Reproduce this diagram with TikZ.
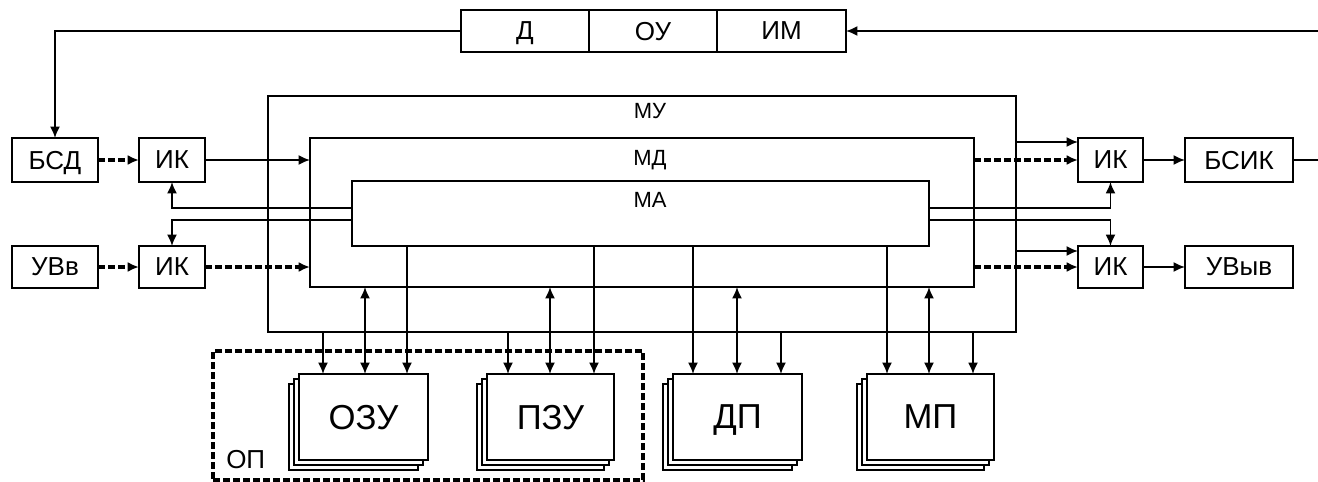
\documentclass[tikz,border=0pt]{standalone}
\usepackage{fontspec}
\setmainfont{Liberation Sans}
\usetikzlibrary{arrows.meta,calc}
\tikzset{
 box/.style={draw, line width=1.25pt, outer sep=0pt, inner sep=0pt, text depth=0pt, font=\fontsize{19.5}{22}\selectfont},
 wire/.style={line width=1.35pt},
 arr/.style={wire, -{Latex[length=8.5pt,width=7.5pt]}},
 darr/.style={line width=2.3pt, dash pattern=on 5pt off 2.5pt, -{Latex[length=8.5pt,width=7.5pt]}},
 biarr/.style={wire, {Latex[length=8.5pt,width=7.5pt]}-{Latex[length=8.5pt,width=7.5pt]}},
 mem/.style={box, fill=white, font=\fontsize{26}{30}\selectfont},
 back/.style={draw, line width=1.25pt, fill=white},
 lbl/.style={font=\fontsize{16.5}{19}\selectfont, anchor=base, inner sep=0pt},
 opbox/.style={draw, line width=2.4pt, dash pattern=on 5pt off 2.5pt, outer sep=0pt, inner sep=0pt},
}
\newcommand\mybox[7][]{\node[box,#1,minimum width={(#4-#2)*0.75pt},minimum height={(#5-#3)*0.75pt}] (#6) at ({(#2+#4)/2},{(#3+#5)/2}) {#7};}
\newcommand\memstack[4]{%
  \draw[back] ({#2-10},384) rectangle ({#3-10},470);
  \draw[back] ({#2-5},379) rectangle ({#3-5},465);
  \mybox[mem]{#2}{374}{#3}{460}{#1}{#4}}
\begin{document}
\begin{tikzpicture}[x=0.75pt,y=-0.75pt]
\useasboundingbox (0,0) rectangle (1318,482);
% top row
\mybox{461}{10}{589}{52}{d}{Д}
\mybox{589}{10}{717}{52}{ou}{ОУ}
\mybox{717}{10}{846}{52}{im}{ИМ}
% left
\mybox{12}{138}{98}{182}{bsd}{БСД}
\mybox{139}{138}{205}{182}{ik1}{ИК}
\mybox{12}{246}{98}{288}{uvv}{УВв}
\mybox{139}{246}{205}{288}{ik2}{ИК}
% right
\mybox{1078}{138}{1143}{182}{ik3}{ИК}
\mybox{1185}{138}{1293}{182}{bsik}{БСИК}
\mybox{1078}{246}{1143}{288}{ik4}{ИК}
\mybox{1185}{246}{1293}{288}{uvyv}{УВыв}
% big boxes
\mybox{268}{96}{1016}{332}{mu}{}
\mybox{310}{138}{974}{287}{md}{}
\mybox{352}{181}{929}{246}{ma}{}
\node[lbl] (mul) at (650,118) {МУ};
\node[lbl] (mdl) at (650,165) {МД};
\node[lbl] (mal) at (650,207) {МА};
% OP
\node[opbox, minimum width={430*0.75pt}, minimum height={129*0.75pt}] (op) at (428,415.5) {};
\node[font=\fontsize{19.5}{22}\selectfont, anchor=base west, inner sep=0pt] (opl) at (226,468) {ОП};
% memory
\memstack{ozu}{299}{428}{ОЗУ}
\memstack{pzu}{487}{614}{ПЗУ}
\memstack{dp}{673}{802}{ДП}
\memstack{mp}{867}{994}{МП}
% coordinates
\coordinate (ya) at (0,208);
\coordinate (yb) at (0,220);
\coordinate (r1) at (0,142);
\coordinate (r2) at (0,251);
\coordinate (rin) at (1318,31);
\coordinate (rout) at (1318,160);
\coordinate (o1) at (323,374); \coordinate (o2) at (365,374); \coordinate (o3) at (407,374);
\coordinate (p1) at (508,374); \coordinate (p2) at (550,374); \coordinate (p3) at (594,374);
\coordinate (q1) at (693,374); \coordinate (q2) at (737,374); \coordinate (q3) at (781,374);
\coordinate (m1) at (887,374); \coordinate (m2) at (929,374); \coordinate (m3) at (973,374);
% top connectors
\draw[arr] (d.west) -| (bsd.north);
\draw[arr] (rin) -- (im.east);
\draw[wire] (bsik.east) -- (rout);
% left connectors
\draw[darr] (bsd.east) -- (ik1.west);
\draw[arr] (ik1.east) -- (ik1.east -| md.west);
\draw[darr] (uvv.east) -- (ik2.west);
\draw[darr] (ik2.east) -- (ik2.east -| md.west);
\draw[arr] (ma.west |- ya) -| (ik1.south);
\draw[arr] (ma.west |- yb) -| (ik2.north);
% right connectors
\draw[arr] (ma.east |- ya) -| (ik3.south);
\draw[arr] (ma.east |- yb) -| (ik4.north);
\draw[arr] (mu.east |- r1) -- (ik3.west |- r1);
\draw[darr] (md.east |- ik3.west) -- (ik3.west);
\draw[arr] (mu.east |- r2) -- (ik4.west |- r2);
\draw[darr] (md.east |- ik4.west) -- (ik4.west);
\draw[arr] (ik3.east) -- (bsik.west);
\draw[arr] (ik4.east) -- (uvyv.west);
% memory connectors
\draw[arr] (mu.south -| o1) -- (o1);
\draw[biarr] (md.south -| o2) -- (o2);
\draw[arr] (ma.south -| o3) -- (o3);
\draw[arr] (mu.south -| p1) -- (p1);
\draw[biarr] (md.south -| p2) -- (p2);
\draw[arr] (ma.south -| p3) -- (p3);
\draw[arr] (ma.south -| q1) -- (q1);
\draw[biarr] (md.south -| q2) -- (q2);
\draw[arr] (mu.south -| q3) -- (q3);
\draw[arr] (ma.south -| m1) -- (m1);
\draw[biarr] (md.south -| m2) -- (m2);
\draw[arr] (mu.south -| m3) -- (m3);
\end{tikzpicture}
\end{document}
